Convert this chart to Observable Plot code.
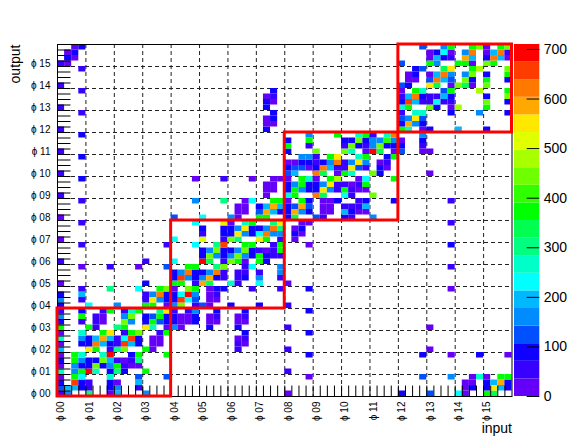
<!DOCTYPE html>
<html><head><meta charset="utf-8">
<script src="https://cdn.jsdelivr.net/npm/d3@7"></script>
<script src="https://cdn.jsdelivr.net/npm/@observablehq/plot@0.6"></script>
<style>body{margin:0;background:#fff}#c{display:flex;width:568px;height:440px}svg{display:block}</style>
</head><body><div id="c"></div>
<script>
// Each row of the 64×64 histogram: {input bin: count}
const row63={2:20,3:90,51:125,54:160,55:370,58:370,59:440,60:20,62:370,63:440};
const row62={1:20,2:90,52:20,53:90,54:230,55:20,57:160,58:615,60:20,61:195,62:615,63:50};
const row61={1:90,2:20,52:20,53:195,54:90,55:50,57:580,58:195,60:90,61:615,62:195,63:20};
const row60={0:50,1:20,48:125,52:370,53:160,56:370,57:370,58:20,60:440,61:370};
const row59={3:50,50:90,51:125,54:335,55:545,58:370,59:475,63:440};
const row58={49:20,50:90,52:20,53:195,54:615,55:160,57:160,58:440,60:90,63:370};
const row57={49:20,50:20,52:125,53:615,54:195,55:125,57:440,58:90,60:370,63:90};
const row56={0:50,48:125,49:90,52:545,53:335,55:20,56:440,57:335,58:20,60:440};
const row55={3:50,30:90,48:20,50:370,51:265,54:125,55:370,59:475,63:370};
const row54={29:20,30:50,48:50,49:195,50:615,51:90,52:50,53:50,54:195,55:90,60:90,63:440};
const row53={29:90,30:20,48:90,49:650,50:195,51:50,52:50,53:230,54:50,55:50,60:440,63:90};
const row52={0:50,29:90,48:265,49:370,52:440,53:90,55:20,56:475,60:370};
const row51={3:50,30:90,48:50,50:265,51:265,55:90,59:160,63:90};
const row50={29:20,30:90,48:125,49:160,50:545,51:125};
const row49={29:20,30:20,48:90,49:580,50:160,51:90};
const row48={0:50,29:90,48:370,49:265,51:20,52:90,56:195,60:90};
const row47={3:90,35:160,39:370,42:265,43:370,44:50,46:265,47:615,51:160};
const row46={32:90,35:370,40:90,41:90,42:440,43:90,44:160,45:160,46:405,47:160,48:20,51:90};
const row45={32:370,35:50,40:50,41:440,42:90,43:50,44:160,45:440,46:90,47:90,48:90,51:50};
const row44={0:50,32:90,36:440,40:440,41:265,43:20,44:690,45:335,47:20,48:125,51:20,52:20};
const row43={3:90,34:160,35:160,36:50,38:370,39:545,42:265,43:370,46:90,47:370};
const row42={32:20,33:20,34:90,35:90,36:50,37:90,38:160,39:615,40:50,41:160,42:545,43:160,45:20,46:50};
const row41={32:90,33:125,34:125,35:20,36:90,37:615,38:195,39:50,40:50,41:545,42:125,43:50,45:90,46:20};
const row40={0:50,32:125,33:195,36:615,37:335,39:20,40:370,41:265,44:440,45:90,52:20};
const row39={3:90,19:20,23:50,27:20,30:20,31:20,32:20,34:370,35:265,36:20,38:370,39:475,42:20,43:230,47:370};
const row38={29:20,30:20,32:90,33:160,34:370,35:90,36:90,37:160,38:545,39:50,40:50,41:20,42:50,43:370};
const row37={29:20,30:20,32:90,33:370,34:160,35:90,36:90,37:545,38:160,39:50,40:370,41:50,42:20,43:20};
const row36={0:50,29:20,32:265,33:370,36:615,37:335,40:230,41:50,44:440};
const row35={3:50,19:160,23:300,26:20,27:230,30:370,31:370,32:20,34:370,35:90,37:20,38:20,39:90,42:50,43:90,47:90,55:50};
const row34={25:20,26:20,28:90,29:195,30:580,31:195,32:90,33:125,34:580,35:125,37:20,38:20,40:50,41:50,42:50,43:195};
const row33={25:20,26:20,28:125,29:580,30:195,31:90,32:90,33:580,34:160,35:90,37:20,38:20,40:195,41:90,42:20,43:20};
const row32={0:20,16:125,20:230,24:160,25:20,28:370,29:370,32:90,33:335,36:125,37:50,40:90,41:50,44:160};
const row31={3:50,19:230,23:545,24:20,26:265,27:370,30:300,31:545,34:20,35:20,55:50};
const row30={20:90,23:90,24:90,25:160,26:545,27:90,28:90,29:160,30:615,31:300,33:20,34:90};
const row29={20:50,23:90,24:90,25:545,26:160,27:90,28:230,29:615,30:160,31:160,33:90,34:20};
const row28={0:20,16:230,20:510,23:50,24:440,25:300,28:545,29:370,31:50,33:20};
const row27={3:50,15:50,19:230,22:300,23:650,26:370,27:370,30:50,31:370,35:20,55:90};
const row26={20:90,21:160,22:440,23:90,24:90,25:160,26:440,27:90,28:50,29:20,30:50,31:370};
const row25={20:90,21:440,22:160,23:90,24:160,25:440,26:160,27:90,28:370,29:90,30:50,31:50};
const row24={0:50,12:50,16:230,20:690,21:335,23:50,24:440,25:370,26:20,28:370,29:90};
const row23={3:20,7:50,11:20,15:125,18:370,19:370,22:300,23:440,26:50,27:230,31:160,55:50};
const row22={16:90,17:160,18:615,19:90,20:90,21:160,22:615,23:50,25:50,26:50,28:50,31:160};
const row21={16:90,17:650,18:160,19:90,20:160,21:580,22:90,23:50,25:50,26:90,28:160,31:50};
const row20={0:20,12:90,16:370,17:370,19:50,20:580,21:335,24:265,25:50,28:230,32:20};
const row19={3:50,7:300,11:230,14:370,15:440,16:20,18:440,19:370,21:20,22:90,23:90,27:50,31:50,35:90,55:20};
const row18={0:90,3:195,12:50,13:160,14:615,15:90,16:90,17:230,18:690,19:160,21:20,22:50};
const row17={0:160,3:50,12:50,13:545,14:160,15:90,16:90,17:650,18:230,19:125,21:20,22:20};
const row16={0:90,4:230,8:160,12:370,13:370,15:20,16:160,17:440,19:50,20:125,21:20,24:90,28:90,32:50};
const row15={0:50,3:90,6:50,7:370,9:50,10:265,11:370,14:300,15:545,16:50,18:50,19:160,22:90,26:90,35:90};
const row14={0:160,3:370,5:50,6:20,9:160,10:440,12:90,13:125,14:370,15:90,16:90,17:20,18:20,19:90,21:20,22:50,25:20,26:50};
const row13={0:90,3:50,5:50,6:20,9:440,10:160,12:90,13:370,14:125,15:90,16:90,17:20,18:20,19:90,21:20,22:20,25:20,26:20};
const row12={0:370,4:370,5:50,8:300,9:370,12:545,13:265,15:20,16:160,17:20,21:90,25:90,32:50,52:20};
const row11={0:20,3:265,6:370,7:545,9:50,10:370,11:440,14:50,15:370,26:90,35:90};
const row10={0:265,3:160,4:90,5:195,6:580,7:195,8:50,9:230,10:650,11:90,13:20,14:20,25:20,26:50};
const row09={0:20,3:90,4:90,5:615,6:195,7:90,8:50,9:650,10:195,11:90,13:20,14:20,25:50,26:20};
const row08={0:195,4:545,5:370,7:50,8:300,9:440,12:370,13:20,25:50,32:50,52:20};
const row07={0:20,2:370,3:265,6:265,7:690,10:90,11:370,15:370,35:90,51:90,55:20,59:90,63:20};
const row06={0:90,2:370,3:160,4:90,5:90,6:440,7:195,8:50,9:20,10:50,11:300};
const row05={0:20,2:160,3:90,4:90,5:440,6:90,7:160,8:370,9:50,10:20,11:20};
const row04={0:265,2:160,3:370,4:690,5:265,7:90,8:300,9:90,12:370,32:50};
const row03={0:20,2:370,3:230,7:265,11:125,15:125,35:20,51:125,55:160,58:20,59:265,60:20,62:370,63:370};
const row02={0:90,2:650,3:90,4:50,7:90,8:20,11:195,57:20,58:20,60:90,61:195,62:580,63:90};
const row01={0:125,1:195,2:195,3:90,4:50,7:90,8:160,11:50,57:20,58:90,60:90,61:545,62:195,63:90};
const row00={0:50,1:160,4:300,7:20,8:195,12:160,32:20,48:90,52:125,56:230,57:20,60:370,61:335};
const rows=[row00,row01,row02,row03,row04,row05,row06,row07,row08,row09,row10,row11,row12,row13,row14,row15,
row16,row17,row18,row19,row20,row21,row22,row23,row24,row25,row26,row27,row28,row29,row30,row31,
row32,row33,row34,row35,row36,row37,row38,row39,row40,row41,row42,row43,row44,row45,row46,row47,
row48,row49,row50,row51,row52,row53,row54,row55,row56,row57,row58,row59,row60,row61,row62,row63];

const phiLabels=["ϕ 00","ϕ 01","ϕ 02","ϕ 03","ϕ 04","ϕ 05","ϕ 06","ϕ 07","ϕ 08","ϕ 09","ϕ 10","ϕ 11","ϕ 12","ϕ 13","ϕ 14","ϕ 15"];
const palette=["#6400f8","#3800ff","#1000ff","#0050ff","#008cff","#00b8ff","#00ffff","#00ffc8","#00ff80","#00ff50","#00ff00","#30ff00","#70ff00","#a8ff00","#e0ff00","#ffe800","#ffa800","#ff7800","#ff3c00","#ff0000"];
const zEdges=[0,35.5,71,106.5,142,177.5,213,248.5,284,319.5,355,390.5,426,461.5,497,532.5,568,603.5,639,674.5,710];
const zTicks=[0,100,200,300,400,500,600,700];
const boxes=[[0,16],[16,32],[32,48],[48,64]];
const nBins=64, binsPerLabel=4;

const cells=rows.flatMap((r,j)=>Object.entries(r).map(([i,v])=>({i:+i,j,v})));
const binEdges=d3.range(1,nBins);
const gridPos=d3.range(binsPerLabel,nBins,binsPerLabel);
const labelPos=phiLabels.map((_,k)=>k*binsPerLabel+0.5);
const lab=d=>phiLabels[(d-0.5)/binsPerLabel];
const colorScale={type:"threshold",domain:zEdges.slice(1,-1),range:palette};
const font="Liberation Sans, Arial, sans-serif";

const main=Plot.plot({
  width:514,height:440,marginLeft:57,marginRight:2.5,marginTop:44,marginBottom:44,
  style:{fontFamily:font,background:"transparent",overflow:"visible"},
  x:{domain:[0,nBins],axis:null},y:{domain:[0,nBins],axis:null},color:colorScale,
  marks:[
    Plot.ruleX(gridPos,{x:d=>d,stroke:"#222",strokeDasharray:"4,3",strokeWidth:1}),
    Plot.ruleY(gridPos,{y:d=>d,stroke:"#222",strokeDasharray:"4,3",strokeWidth:1}),
    Plot.rect(cells,{x1:"i",x2:d=>d.i+1,y1:"j",y2:d=>d.j+1,fill:"v",inset:0}),
    Plot.ruleX(binEdges,{x:d=>d,y1:0,y2:1.9,stroke:"#000",strokeWidth:1}),
    Plot.ruleY(binEdges,{y:d=>d,x1:0,x2:1.9,stroke:"#000",strokeWidth:1}),
    Plot.frame({stroke:"#000",strokeWidth:1}),
    Plot.rect(boxes,{x1:d=>d[0],x2:d=>d[1],y1:d=>d[0],y2:d=>d[1],fill:"none",stroke:"#ff0000",strokeWidth:3}),
    Plot.axisY({ticks:labelPos,tickFormat:lab,tickSize:0,tickPadding:7,fontSize:10,label:null}),
    Plot.axisX({ticks:labelPos,tickFormat:lab,tickSize:0,tickPadding:5,fontSize:10,tickRotate:-90,label:null}),
    Plot.text(["input"],{frameAnchor:"bottom-right",textAnchor:"end",dy:36,dx:0,fontSize:14,fill:"#000"}),
    Plot.text(["output"],{frameAnchor:"top-left",rotate:-90,textAnchor:"end",dx:-47,dy:0,fontSize:14,fill:"#000"})
  ]
});
const bands=zEdges.slice(0,-1).map((lo,k)=>({lo,hi:zEdges[k+1]}));
const bar=Plot.plot({
  width:54,height:440,marginLeft:0,marginRight:28.7,marginTop:44,marginBottom:44,
  style:{fontFamily:font,background:"transparent",overflow:"visible"},
  x:{domain:[0,1],axis:null},y:{domain:[0,zEdges[zEdges.length-1]],axis:null},color:colorScale,
  marks:[
    Plot.rect(bands,{x1:0,x2:1,y1:"lo",y2:"hi",fill:d=>(d.lo+d.hi)/2}),
    Plot.ruleY(zTicks,{y:d=>d,x1:0.5,x2:1,stroke:"#000"}),
    Plot.axisY({anchor:"right",ticks:zTicks,tickSize:0,tickPadding:4,fontSize:14,label:null})
  ]
});
document.getElementById("c").append(main,bar);
</script></body></html>
